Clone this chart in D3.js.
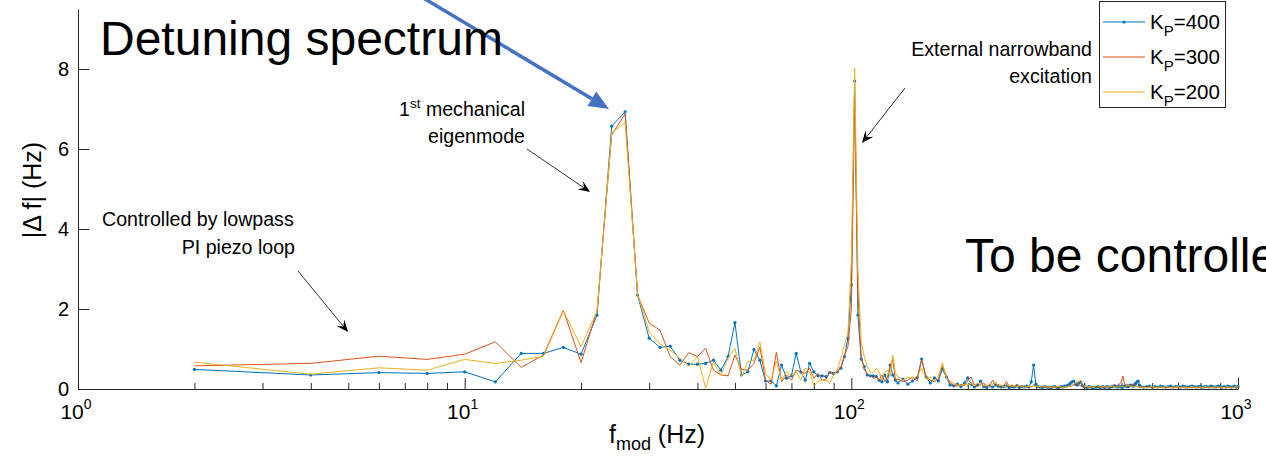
<!DOCTYPE html>
<html>
<head>
<meta charset="utf-8">
<script src="https://cdn.jsdelivr.net/npm/d3@7"></script>
<style>
  body { margin: 0; background: #fff; }
  svg { display: block; }
  text { font-family: "Liberation Sans", Arial, sans-serif; fill: #000; }
</style>
</head>
<body>
<svg id="chart" width="1266" height="469"></svg>
<script>
// Modulation frequency grid (Hz): finer steps at low frequency, coarser towards 1 kHz
const freqs = [].concat(
  d3.range(2, 131, 2),
  d3.range(132, 301, 4),
  d3.range(304, 561, 4),
  d3.range(570, 1001, 10)
);

// |Δf| (Hz) for each piezo loop gain
const kp400 = [
  0.49, 0.35, 0.41, 0.39, 0.43, 0.18, 0.89, 0.89, 1.04, 0.87,
  1.85, 6.57, 6.93, 2.35, 1.27, 1.04, 1.07, 0.72, 0.62, 0.62,
  0.64, 0.72, 0.47, 0.81, 1.66, 0.35, 0.43, 0.99, 0.72, 0.20,
  0.20, 0.08, 0.60, 0.27, 0.33, 0.89, 0.43, 0.22, 0.64, 0.43,
  0.33, 0.33, 0.31, 0.41, 0.39, 0.43, 0.52, 0.81, 1.27, 2.60,
  7.70, 1.85, 0.75, 0.56, 0.35, 0.33, 0.33, 0.31, 0.22, 0.18,
  0.35, 0.18, 0.60, 0.35, 0.22,
  0.15, 0.25, 0.12, 0.20, 0.28, 0.75, 0.30, 0.15, 0.28, 0.20,
  0.50, 0.30, 0.10, 0.08, 0.12, 0.06, 0.15, 0.28, 0.12, 0.05,
  0.10, 0.20, 0.06, 0.04, 0.08, 0.05, 0.10, 0.07, 0.05, 0.06,
  0.08, 0.04, 0.06, 0.05, 0.08, 0.04, 0.06, 0.05, 0.07, 0.05,
  0.18, 0.60, 0.12,
  0.06, 0.05, 0.04, 0.06, 0.05, 0.04, 0.03, 0.05, 0.06, 0.04,
  0.04, 0.06, 0.05, 0.07, 0.08, 0.10, 0.14, 0.18, 0.20, 0.12,
  0.10, 0.15, 0.18, 0.09, 0.06, 0.05, 0.04, 0.06, 0.05, 0.04,
  0.03, 0.05, 0.05, 0.06, 0.04, 0.05, 0.06, 0.04, 0.05, 0.06,
  0.04, 0.05, 0.06, 0.07, 0.08, 0.06, 0.05, 0.07, 0.06, 0.05,
  0.05, 0.07, 0.08, 0.06, 0.06, 0.08, 0.10, 0.08, 0.07, 0.10,
  0.14, 0.18, 0.20, 0.10, 0.06,
  0.05, 0.06, 0.07, 0.05, 0.06, 0.05, 0.07, 0.06, 0.05, 0.06,
  0.07, 0.05, 0.06, 0.06, 0.05, 0.07, 0.06, 0.05, 0.06, 0.07,
  0.06, 0.05, 0.06, 0.07, 0.05, 0.06, 0.06, 0.05, 0.07, 0.06,
  0.05, 0.06, 0.07, 0.06, 0.05, 0.06, 0.05, 0.07, 0.06, 0.05,
  0.06, 0.07, 0.05, 0.06
];
const kp300 = [
  0.58, 0.64, 0.82, 0.74, 0.87, 1.18, 0.54, 0.85, 1.97, 0.66,
  1.97, 6.35, 6.88, 2.35, 1.65, 1.47, 0.81, 0.60, 0.91, 0.81,
  1.02, 0.47, 0.35, 0.33, 0.85, 0.49, 0.47, 0.64, 1.05, 0.22,
  0.12, 0.92, 0.18, 0.35, 0.22, 0.47, 0.43, 0.39, 0.52, 0.27,
  0.39, 0.22, 0.24, 0.43, 0.39, 0.43, 0.56, 0.85, 1.06, 2.00,
  7.25, 2.40, 0.85, 0.48, 0.38, 0.33, 0.27, 0.29, 0.22, 0.35,
  0.18, 0.31, 0.56, 0.75, 0.22,
  0.25, 0.18, 0.22, 0.30, 0.20, 0.72, 0.32, 0.22, 0.18, 0.25,
  0.58, 0.35, 0.15, 0.10, 0.07, 0.12, 0.08, 0.22, 0.30, 0.10,
  0.06, 0.12, 0.15, 0.05, 0.10, 0.22, 0.08, 0.12, 0.06, 0.09,
  0.18, 0.06, 0.10, 0.04, 0.12, 0.06, 0.05, 0.08, 0.04, 0.06,
  0.05, 0.10, 0.06,
  0.05, 0.06, 0.07, 0.05, 0.04, 0.05, 0.06, 0.04, 0.04, 0.05,
  0.05, 0.04, 0.03, 0.05, 0.06, 0.07, 0.08, 0.09, 0.10, 0.12,
  0.16, 0.10, 0.08, 0.06, 0.05, 0.06, 0.06, 0.05, 0.04, 0.05,
  0.05, 0.06, 0.08, 0.06, 0.05, 0.04, 0.04, 0.05, 0.06, 0.04,
  0.05, 0.06, 0.07, 0.05, 0.04, 0.06, 0.10, 0.12, 0.14, 0.20,
  0.32, 0.15, 0.08, 0.10, 0.12, 0.08, 0.06, 0.10, 0.14, 0.10,
  0.08, 0.06, 0.05, 0.04, 0.04,
  0.04, 0.03, 0.04, 0.05, 0.03, 0.04, 0.04, 0.03, 0.05, 0.04,
  0.03, 0.04, 0.04, 0.03, 0.05, 0.04, 0.03, 0.04, 0.04, 0.03,
  0.04, 0.05, 0.03, 0.04, 0.04, 0.03, 0.04, 0.05, 0.03, 0.04,
  0.04, 0.03, 0.04, 0.05, 0.03, 0.04, 0.03, 0.04, 0.04, 0.03,
  0.04, 0.04, 0.03, 0.04
];
const kp200 = [
  0.67, 0.37, 0.53, 0.47, 0.74, 0.64, 0.72, 0.82, 1.95, 1.06,
  1.95, 6.40, 6.66, 2.38, 1.43, 1.12, 0.97, 0.77, 0.57, 0.81,
  0.02, 0.68, 0.35, 0.77, 1.02, 0.31, 0.68, 0.72, 1.18, 0.39,
  0.22, 0.70, 0.22, 0.43, 0.33, 0.43, 0.22, 0.52, 0.43, 0.08,
  0.18, 0.22, 0.22, 0.14, 0.35, 0.47, 0.77, 1.10, 1.40, 3.20,
  8.02, 3.00, 1.20, 0.81, 0.56, 0.43, 0.41, 0.52, 0.43, 0.22,
  0.43, 0.47, 0.31, 0.85, 0.40,
  0.30, 0.22, 0.30, 0.26, 0.32, 0.52, 0.25, 0.30, 0.20, 0.33,
  0.66, 0.28, 0.20, 0.14, 0.10, 0.09, 0.12, 0.10, 0.14, 0.08,
  0.15, 0.10, 0.08, 0.10, 0.06, 0.12, 0.18, 0.08, 0.10, 0.05,
  0.07, 0.10, 0.06, 0.08, 0.05, 0.09, 0.06, 0.04, 0.06, 0.07,
  0.05, 0.08, 0.06,
  0.07, 0.06, 0.05, 0.06, 0.06, 0.05, 0.04, 0.05, 0.05, 0.06,
  0.07, 0.05, 0.04, 0.05, 0.05, 0.06, 0.06, 0.09, 0.12, 0.16,
  0.20, 0.18, 0.22, 0.12, 0.08, 0.06, 0.05, 0.05, 0.06, 0.05,
  0.04, 0.06, 0.10, 0.07, 0.05, 0.06, 0.07, 0.05, 0.04, 0.05,
  0.06, 0.07, 0.08, 0.06, 0.05, 0.05, 0.06, 0.07, 0.07, 0.06,
  0.06, 0.05, 0.05, 0.07, 0.09, 0.08, 0.07, 0.06, 0.06, 0.05,
  0.05, 0.06, 0.06, 0.05, 0.05,
  0.05, 0.04, 0.05, 0.06, 0.04, 0.05, 0.05, 0.04, 0.06, 0.05,
  0.04, 0.05, 0.05, 0.06, 0.04, 0.05, 0.05, 0.04, 0.05, 0.06,
  0.05, 0.04, 0.05, 0.05, 0.04, 0.06, 0.05, 0.05, 0.04, 0.05,
  0.05, 0.06, 0.04, 0.05, 0.05, 0.04, 0.05, 0.06, 0.05, 0.04,
  0.05, 0.05, 0.06, 0.05
];

const seriesGains = ["400", "300", "200"];
const seriesValues = [kp400, kp300, kp200];
const seriesColors = ["#0072BD", "#D95319", "#EDB120"];

const yTicks = [0, 2, 4, 6, 8];
const xDecades = [1, 10, 100, 1000];
const xDecadeExponents = ["0", "1", "2", "3"];

const svg = d3.select("#chart");
const axisColor = "#262626";

const x = d3.scaleLog().domain([1, 1000]).range([78, 1238]);
const y = d3.scaleLinear().domain([0, 9.5]).range([389, 9]);

// ---- axes ----
const yAxis = svg.append("g")
  .attr("transform", `translate(${x.range()[0]},0)`)
  .call(d3.axisLeft(y).tickValues(yTicks).tickSizeInner(-11).tickSizeOuter(0).tickPadding(9));
yAxis.select(".domain").attr("stroke", axisColor);
yAxis.selectAll(".tick line").attr("stroke", axisColor);
yAxis.selectAll(".tick text")
  .attr("font-size", 20).attr("fill", axisColor)
  .style("font-family", '"Liberation Sans", Arial, sans-serif');

const minorTicks = [];
xDecades.slice(0, -1).forEach(d => { for (let k = 2; k <= 9; k++) minorTicks.push(d * k); });

const xMinor = svg.append("g")
  .attr("transform", `translate(0,${y(0)})`)
  .call(d3.axisBottom(x).tickValues(minorTicks).tickSizeInner(-6).tickSizeOuter(0).tickFormat(() => ""));
xMinor.select(".domain").remove();
xMinor.selectAll(".tick line").attr("stroke", axisColor);

const xMajor = svg.append("g")
  .attr("transform", `translate(0,${y(0)})`)
  .call(d3.axisBottom(x).tickValues(xDecades).tickSizeInner(-11).tickSizeOuter(0).tickFormat(() => ""));
xMajor.select(".domain").attr("stroke", axisColor);
xMajor.selectAll(".tick line").attr("stroke", axisColor);

xDecades.forEach((d, i) => {
  const t = svg.append("text")
    .attr("x", x(d) - 2).attr("y", 419)
    .attr("text-anchor", "middle")
    .attr("font-size", 21).attr("fill", axisColor);
  t.append("tspan").text("10");
  t.append("tspan").attr("dy", -10).attr("font-size", 14).text(xDecadeExponents[i]);
});

// axis titles
const xTitle = svg.append("text")
  .attr("x", 657).attr("y", 443)
  .attr("text-anchor", "middle")
  .attr("font-size", 25).attr("fill", axisColor);
xTitle.append("tspan").text("f");
xTitle.append("tspan").attr("dy", 7).attr("font-size", 18).text("mod");
xTitle.append("tspan").attr("dy", -7).text(" (Hz)");

svg.append("text")
  .attr("transform", "translate(41,190) rotate(-90)")
  .attr("text-anchor", "middle")
  .attr("font-size", 25).attr("fill", axisColor)
  .text("|\u0394 f| (Hz)");

// ---- data lines ----
const line = d3.line()
  .x(d => x(d[0]))
  .y(d => y(d[1]));

seriesValues.forEach((vals, i) => {
  const pts = freqs.map((f, j) => [f, vals[j]]);
  svg.append("path")
    .datum(pts)
    .attr("fill", "none")
    .attr("stroke", seriesColors[i])
    .attr("stroke-width", 1)
    .attr("stroke-linejoin", "round")
    .attr("d", line);
  if (i === 0) {
    svg.append("g").selectAll("circle")
      .data(pts).join("circle")
      .attr("cx", d => x(d[0])).attr("cy", d => y(d[1]))
      .attr("r", 1.6).attr("fill", seriesColors[i]);
  }
});

// ---- legend ----
const legend = svg.append("g");
legend.append("rect")
  .attr("x", 1099.5).attr("y", 1.5).attr("width", 126).attr("height", 106)
  .attr("fill", "#fff").attr("stroke", axisColor).attr("stroke-width", 1);
seriesGains.forEach((g, i) => {
  const ly = 22 + i * 35;
  legend.append("line")
    .attr("x1", 1103).attr("x2", 1145).attr("y1", ly).attr("y2", ly)
    .attr("stroke", seriesColors[i]).attr("stroke-width", 1);
  if (i === 0) {
    legend.append("circle").attr("cx", 1124).attr("cy", ly).attr("r", 1.6).attr("fill", seriesColors[i]);
  }
  const t = legend.append("text")
    .attr("x", 1150).attr("y", ly + 7)
    .attr("font-size", 20.5).attr("fill", axisColor);
  t.append("tspan").text("K");
  t.append("tspan").attr("dy", 7).attr("font-size", 15).text("P");
  t.append("tspan").attr("dy", -7).text("=" + g);
});

// ---- annotations ----
function arrow(x1, y1, x2, y2, opt) {
  const dx = x2 - x1, dy = y2 - y1, L = Math.hypot(dx, dy);
  const ux = dx / L, uy = dy / L, px = -uy, py = ux;
  const bx = x2 - ux * opt.headLen, by = y2 - uy * opt.headLen;
  const nx = x2 - ux * opt.headLen * opt.notch, ny = y2 - uy * opt.headLen * opt.notch;
  svg.append("line")
    .attr("x1", x1).attr("y1", y1).attr("x2", nx).attr("y2", ny)
    .attr("stroke", opt.lineColor).attr("stroke-width", opt.width);
  const head = [
    [x2, y2],
    [bx + px * opt.headW / 2, by + py * opt.headW / 2],
    [nx, ny],
    [bx - px * opt.headW / 2, by - py * opt.headW / 2]
  ];
  svg.append("path")
    .attr("d", "M" + head.map(p => p.join(",")).join("L") + "Z")
    .attr("fill", opt.headColor);
}

const thinArrow = { lineColor: "#333", headColor: "#000", width: 1, headLen: 12, headW: 10, notch: 0.6 };
arrow(527, 149, 590, 192, thinArrow);
arrow(298, 271, 348, 332, thinArrow);
arrow(905, 88, 862, 143, thinArrow);
arrow(420, -4, 609, 109, { lineColor: "#4472C4", headColor: "#4472C4", width: 3.5, headLen: 20, headW: 17, notch: 1 });

function label(txt, xPos, yPos, anchor, size) {
  return svg.append("text")
    .attr("x", xPos).attr("y", yPos)
    .attr("text-anchor", anchor)
    .attr("font-size", size)
    .text(txt);
}

label("Detuning spectrum", 100, 55, "start", 48);
label("To be controlled", 965, 272, "start", 48);

const noteSize = 19.6;
const mech = svg.append("text")
  .attr("x", 525).attr("y", 116).attr("text-anchor", "end").attr("font-size", noteSize);
mech.append("tspan").text("1");
mech.append("tspan").attr("dy", -8).attr("font-size", 13.5).text("st");
mech.append("tspan").attr("dy", 8).text(" mechanical");
label("eigenmode", 525, 143, "end", noteSize);

label("Controlled by lowpass", 102, 226, "start", noteSize);
label("PI piezo loop", 295, 254, "end", noteSize);

label("External narrowband", 1092, 56, "end", noteSize);
label("excitation", 1092, 83, "end", noteSize);
</script>
</body>
</html>
